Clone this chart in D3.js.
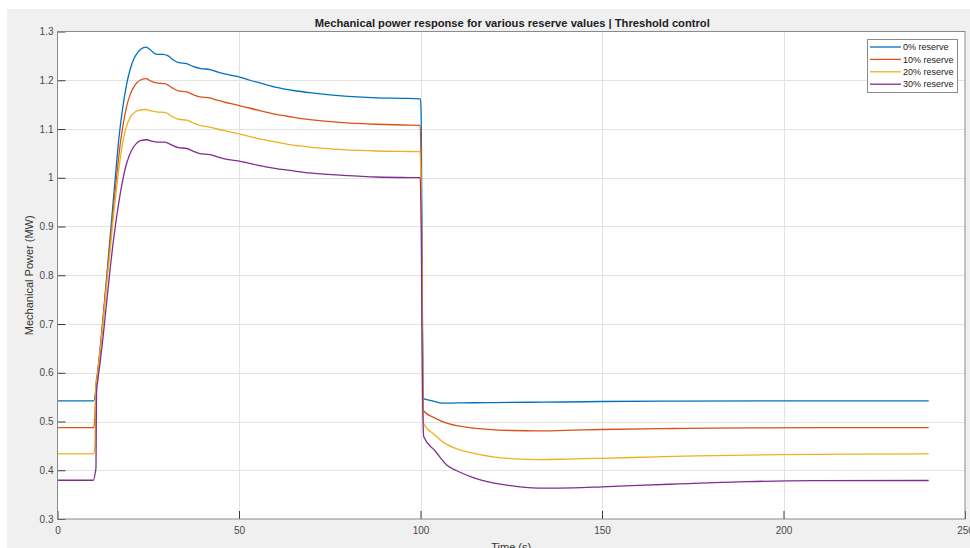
<!DOCTYPE html>
<html>
<head>
<meta charset="utf-8">
<script src="https://cdn.jsdelivr.net/npm/d3@7"></script>
<style>
  html, body { margin: 0; padding: 0; background: #ffffff; }
  svg { display: block; font-family: "Liberation Sans", Arial, sans-serif; }
</style>
</head>
<body>
<svg id="chart" width="970" height="548"></svg>
<script>
// ---------------- DATA ----------------
const chartTitle = "Mechanical power response for various reserve values | Threshold control";
const xLabel = "Time (s)";
const yLabel = "Mechanical Power (MW)";
const seriesNames = ["0% reserve", "10% reserve", "20% reserve", "30% reserve"];
const seriesColors = ["#0072BD", "#D95319", "#EDB120", "#7E2F8E"];
const xTicks = [0, 50, 100, 150, 200, 250];
const yTicks = [0.3, 0.4, 0.5, 0.6, 0.7, 0.8, 0.9, 1.0, 1.1, 1.2, 1.3];

// [time (s), mechanical power (MW)]
const reserve0 = [
  [0,0.5425],[10.0,0.5425],[10.8,0.58],[11.5,0.63],[12.3,0.69],[13.0,0.75],[13.7,0.81],[14.4,0.87],
  [15.1,0.93],[15.8,0.99],[16.5,1.05],[17.2,1.10],[18.0,1.145],[19.0,1.19],[20.0,1.222],[21.0,1.243],
  [22.0,1.256],[23.0,1.264],[24.4,1.268],[25.5,1.263],
  [26.5,1.256],[27.5,1.253],[29.0,1.253],[30.5,1.250],[32.0,1.241],[33.5,1.236],[35.5,1.234],
  [37.5,1.228],[39.5,1.224],[42.0,1.222],[44.0,1.217],[46.0,1.213],[50.0,1.207],[53.0,1.200],
  [56.0,1.194],[60.0,1.186],[65.0,1.179],[70.0,1.174],[75.0,1.170],[80.0,1.167],[88.0,1.164],
  [95.0,1.163],[100.0,1.162],[100.2,1.12],[100.5,0.75],[100.8,0.547],[103.0,0.543],[106.3,0.5376],
  [110,0.538],[115,0.5385],[120,0.5388],[130,0.5395],[140,0.540],[150,0.541],[170,0.5418],
  [200,0.5423],[240,0.5425]
];
const reserve10 = [
  [0,0.4875],[10.0,0.4875],[10.3,0.51],[10.6,0.575],[11.0,0.60],[11.7,0.645],[12.4,0.70],[13.1,0.755],
  [13.8,0.81],[14.5,0.865],[15.2,0.92],[15.9,0.975],[16.6,1.025],[17.3,1.07],[18.1,1.11],[19.0,1.145],
  [20.0,1.17],[21.0,1.186],[22.0,1.196],[23.0,1.201],[24.4,1.2034],[25.5,1.199],[27.3,1.1945],
  [29.6,1.193],[31.5,1.185],[33.3,1.178],[35.6,1.176],[37.5,1.170],[39.2,1.1657],[42.0,1.1637],
  [44.0,1.159],[45.7,1.1555],[49.8,1.1487],[55.0,1.139],[60.3,1.130],[65.0,1.124],[69.5,1.1193],
  [78.7,1.113],[87.9,1.1097],[95.0,1.1082],[99.9,1.1076],[100.2,1.0],[100.5,0.7],[100.8,0.522],
  [104,0.507],[107.2,0.4965],[112,0.489],[118.4,0.484],[125,0.4815],[132.4,0.4807],[140,0.4818],
  [150,0.4836],[170,0.4856],[190,0.487],[215,0.4874],[240,0.4876]
];
const reserve20 = [
  [0,0.4335],[10.0,0.4335],[10.3,0.452],[10.6,0.57],[11.0,0.595],[11.7,0.64],[12.4,0.69],[13.1,0.745],
  [13.8,0.80],[14.5,0.85],[15.2,0.905],[15.9,0.955],[16.6,1.0],[17.4,1.045],[18.3,1.085],[19.2,1.11],
  [20.2,1.126],[21.2,1.134],[22.3,1.138],[24.4,1.140],[25.8,1.137],[27.3,1.135],[29.6,1.134],[31.5,1.126],
  [33.3,1.12],[35.6,1.118],[37.5,1.112],[39.2,1.1076],[42.0,1.104],[44.0,1.100],[45.7,1.097],
  [49.8,1.0905],[55.0,1.081],[60.3,1.0733],[65.0,1.067],[69.5,1.063],[78.7,1.0577],[87.9,1.0549],
  [95.0,1.054],[99.9,1.0536],[100.2,0.95],[100.5,0.7],[100.8,0.4965],[104,0.472],[107.2,0.453],
  [110,0.444],[113.8,0.436],[120.3,0.427],[126,0.4235],[132.4,0.422],[140,0.4228],[150,0.4245],
  [165,0.4275],[176,0.4295],[199.4,0.432],[220,0.433],[240,0.4335]
];
const reserve30 = [
  [0,0.3795],[9.9,0.3795],[10.4,0.395],[10.6,0.405],[10.75,0.56],[11.1,0.585],[11.8,0.625],[12.5,0.67],
  [13.2,0.72],[13.9,0.77],[14.6,0.82],[15.3,0.865],[16.0,0.905],[16.8,0.945],[17.7,0.985],[18.7,1.02],
  [19.7,1.044],[20.7,1.06],[21.7,1.07],[22.8,1.076],[24.6,1.078],[26.0,1.075],[27.5,1.073],[29.6,1.073],
  [31.5,1.067],[33.3,1.062],[35.6,1.06],[37.5,1.054],[39.2,1.0497],[42.0,1.0476],[44.0,1.043],
  [45.7,1.0394],[49.8,1.0345],[55.0,1.026],[60.3,1.0188],[65.0,1.014],[69.5,1.0098],[78.7,1.005],
  [87.9,1.0015],[95.0,1.0005],[99.9,1.0002],[100.2,0.9],[100.5,0.6],[100.9,0.4685],[104,0.44],
  [107.2,0.411],[110,0.399],[113.8,0.387],[117,0.379],[120.3,0.3735],[126.8,0.3665],[134.2,0.3632],
  [142,0.3638],[150,0.366],[160,0.369],[171.4,0.372],[190,0.3767],[208.7,0.3786],[240,0.379]
];
const allSeries = [reserve0, reserve10, reserve20, reserve30];

// ---------------- LAYOUT ----------------
const svg = d3.select("#chart");
const W = 970, H = 548;
const plot = { left: 57.5, right: 965, top: 31.5, bottom: 519 };

// figure background (MATLAB grey)
svg.append("rect").attr("x", 7).attr("y", 9).attr("width", W - 7).attr("height", H - 9).attr("fill", "#f0f0f0");

const x = d3.scaleLinear().domain([0, 250]).range([plot.left, plot.right]);
const y = d3.scaleLinear().domain([0.3, 1.3]).range([plot.bottom, plot.top]);

// axes background
svg.append("rect")
  .attr("x", plot.left).attr("y", plot.top)
  .attr("width", plot.right - plot.left).attr("height", plot.bottom - plot.top)
  .attr("fill", "#ffffff");

// grid
const grid = svg.append("g").attr("stroke", "#e3e3e3").attr("stroke-width", 1);
grid.selectAll("line.gx").data(xTicks.slice(1, -1)).join("line")
  .attr("x1", d => Math.round(x(d)) + 0.5).attr("x2", d => Math.round(x(d)) + 0.5)
  .attr("y1", plot.top).attr("y2", plot.bottom);
grid.selectAll("line.gy").data(yTicks.slice(1, -1)).join("line")
  .attr("y1", d => Math.round(y(d)) + 0.5).attr("y2", d => Math.round(y(d)) + 0.5)
  .attr("x1", plot.left).attr("x2", plot.right);

// lines
const line = d3.line().x(d => x(d[0])).y(d => y(d[1])).curve(d3.curveMonotoneX);
svg.append("clipPath").attr("id", "clip").append("rect")
  .attr("x", plot.left).attr("y", plot.top)
  .attr("width", plot.right - plot.left).attr("height", plot.bottom - plot.top);
const lines = svg.append("g").attr("clip-path", "url(#clip)");
allSeries.forEach((s, i) => {
  lines.append("path").datum(s)
    .attr("d", line)
    .attr("fill", "none")
    .attr("stroke", seriesColors[i])
    .attr("stroke-width", 1.3)
    .attr("stroke-linejoin", "round");
});

// axes
const axisColor = "#8a8a8a";
const xAxis = d3.axisBottom(x).tickValues(xTicks).tickSize(-8).tickPadding(8).tickFormat(d3.format("d"));
const yAxis = d3.axisLeft(y).tickValues(yTicks).tickSize(-8).tickPadding(4).tickFormat(d => +d.toFixed(1));

const gx = svg.append("g").attr("transform", `translate(0,${plot.bottom})`).call(xAxis);
const gy = svg.append("g").attr("transform", `translate(${plot.left},0)`).call(yAxis);
[gx, gy].forEach(g => {
  g.select(".domain").remove();
  g.selectAll(".tick line").attr("stroke", "#3a3a3a").attr("stroke-width", 1);
  g.selectAll(".tick text").attr("fill", "#4a4a4a").attr("font-size", 10)
    .attr("font-family", "'Liberation Sans', Arial, sans-serif");
});
// box
svg.append("rect")
  .attr("x", plot.left).attr("y", plot.top)
  .attr("width", plot.right - plot.left).attr("height", plot.bottom - plot.top)
  .attr("fill", "none").attr("stroke", axisColor).attr("stroke-width", 1);

// title
svg.append("text")
  .attr("x", (plot.left + plot.right) / 2 + 1).attr("y", 27)
  .attr("text-anchor", "middle")
  .attr("font-size", 11.5).attr("font-weight", "bold").attr("fill", "#222")
  .attr("textLength", 395).attr("lengthAdjust", "spacingAndGlyphs")
  .text(chartTitle);

// axis labels
svg.append("text")
  .attr("x", (plot.left + plot.right) / 2).attr("y", 551)
  .attr("text-anchor", "middle").attr("font-size", 11).attr("fill", "#333")
  .text(xLabel);
svg.append("text")
  .attr("transform", `translate(33,${(plot.top + plot.bottom) / 2}) rotate(-90)`)
  .attr("text-anchor", "middle").attr("font-size", 11).attr("fill", "#333")
  .text(yLabel);

// legend
const leg = svg.append("g");
leg.append("rect").attr("x", 867.5).attr("y", 39.5).attr("width", 90).attr("height", 53)
  .attr("fill", "#ffffff").attr("stroke", "#8a8a8a").attr("stroke-width", 1);
seriesNames.forEach((name, i) => {
  const yy = 47 + i * 12.4;
  leg.append("line").attr("x1", 870).attr("x2", 901).attr("y1", yy).attr("y2", yy)
    .attr("stroke", seriesColors[i]).attr("stroke-width", 1.3);
  leg.append("text").attr("x", 903).attr("y", yy + 3.2)
    .attr("font-size", 9).attr("fill", "#222").text(name);
});
</script>
</body>
</html>
